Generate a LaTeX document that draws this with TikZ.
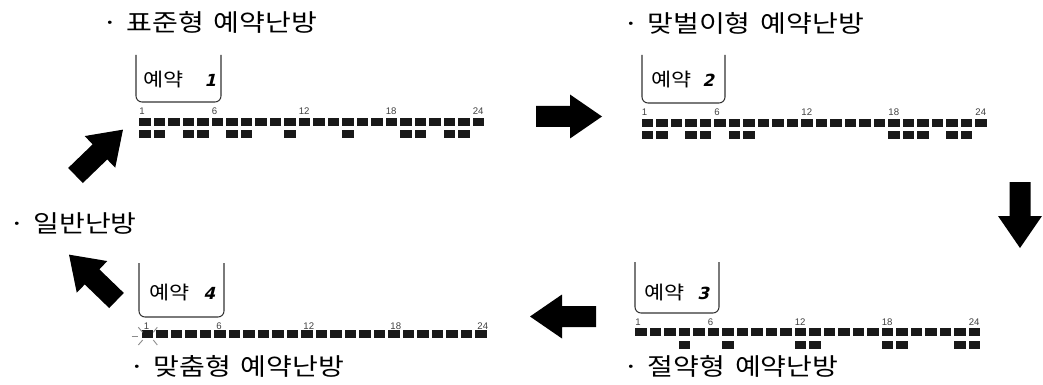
\documentclass[tikz,border=0pt]{standalone}
\usepackage{fontspec}
\setmainfont{Liberation Sans}
\newfontfamily\kr{Noto Sans CJK KR}[FakeStretch=1.17]
\newfontfamily\lcdfont{DejaVu Sans}[FakeSlant=0.25]
\newcommand\squarerow[4]{%
  \foreach \i in {1,...,24} \fill[sq] ({#1+(\i-1)*14.5},{#2-4}) rectangle ++(11.7,8);
  \foreach \i in {#4} \fill[sq] ({#1+(\i-1)*14.5},{#3-4}) rectangle ++(11.7,8);
}
\newcommand\hourlabels[3]{%
  \foreach \k in {1,6,12,18,24} \node[num] (#3-\k) at ({#1+(\k-1)*14.5},#2) {\k};
}
\newcommand\blockarrow[3]{%
  \fill[black, shift={(#1,#2)}, rotate=#3] (0,-10.5) -- (34,-10.5) -- (34,-22) -- (66,0) -- (34,22) -- (34,10.5) -- (0,10.5) -- cycle;
}
\newcommand\wsp{\hspace{0.42em}}
\newcommand\dsp{\hspace{0.35em}}
\begin{document}
\begin{tikzpicture}[x=0.75pt,y=-0.75pt,
  title/.style={anchor=west, inner sep=0pt, font=\kr\fontsize{18}{21}\selectfont},
  boxtxt/.style={anchor=west, inner sep=0pt, font=\kr\fontsize{14}{16}\selectfont},
  digit/.style={anchor=west, inner sep=0pt, font=\lcdfont\bfseries\fontsize{12.5}{14}\selectfont},
  num/.style={anchor=west, inner sep=0pt, font=\fontsize{7.2}{8}\selectfont, text=black!75},
  sq/.style={fill=black!90},
  panel/.style={draw=black!80, line width=0.8pt, rounded corners=4.5},
  flash/.style={draw=black!45, line width=0.7pt}]
\useasboundingbox (0,0) rectangle (1043,385);

% titles
\node[title] (t1) at (102,22) {·\dsp 표준형\wsp 예약난방};
\node[title] (t2) at (623,23) {·\dsp 맞벌이형\wsp 예약난방};
\node[title] (t3) at (9,223) {·\dsp 일반난방};
\node[title] (t4) at (129,366) {·\dsp 맞춤형\wsp 예약난방};
\node[title] (t5) at (623,366) {·\dsp 절약형\wsp 예약난방};

% panel 1
\draw[panel] (136,55) -- (136,102) -- (221,102) -- (221,55);
\node[boxtxt] (b1) at (143,80) {예약};
\node[digit] (d1) at (204,80) {1};
\hourlabels{139}{111}{p1}
\squarerow{139}{122}{134}{1,2,4,5,7,8,11,15,19,20,22,23}

% panel 2
\draw[panel] (642,55) -- (642,103) -- (725,103) -- (725,55);
\node[boxtxt] (b2) at (651,80) {예약};
\node[digit] (d2) at (702,80) {2};
\hourlabels{641.7}{111.7}{p2}
\squarerow{641.7}{123.3}{135}{1,2,4,5,7,8,18,19,20,22,23}

% panel 3
\draw[panel] (635,262) -- (635,313) -- (719,313) -- (719,262);
\node[boxtxt] (b3) at (644,293) {예약};
\node[digit] (d3) at (697,293) {3};
\hourlabels{635}{322}{p3}
\squarerow{635}{331.5}{345}{4,7,12,13,18,19,23,24}

% panel 4
\draw[panel] (139,263) -- (139,317) -- (224,317) -- (224,263);
\node[boxtxt] (b4) at (149,293) {예약};
\node[digit] (d4) at (203,293) {4};
\hourlabels{143.7}{326}{p4}
\squarerow{141.7}{333.5}{0}{}
\draw[flash] (131.7,336) -- (138.3,336);
\draw[flash] (138.3,327.3) -- (142.7,332.3);
\draw[flash] (153.3,332.3) -- (157.3,327.3);
\draw[flash] (138.3,345) -- (142.7,340);
\draw[flash] (153.3,340) -- (157.3,345);

% block arrows
\blockarrow{536}{116.5}{0}
\blockarrow{1020}{182}{-90}
\blockarrow{596}{316.5}{180}
\blockarrow{75.5}{175.5}{44}
\blockarrow{116.5}{300.5}{136}
\end{tikzpicture}
\end{document}
